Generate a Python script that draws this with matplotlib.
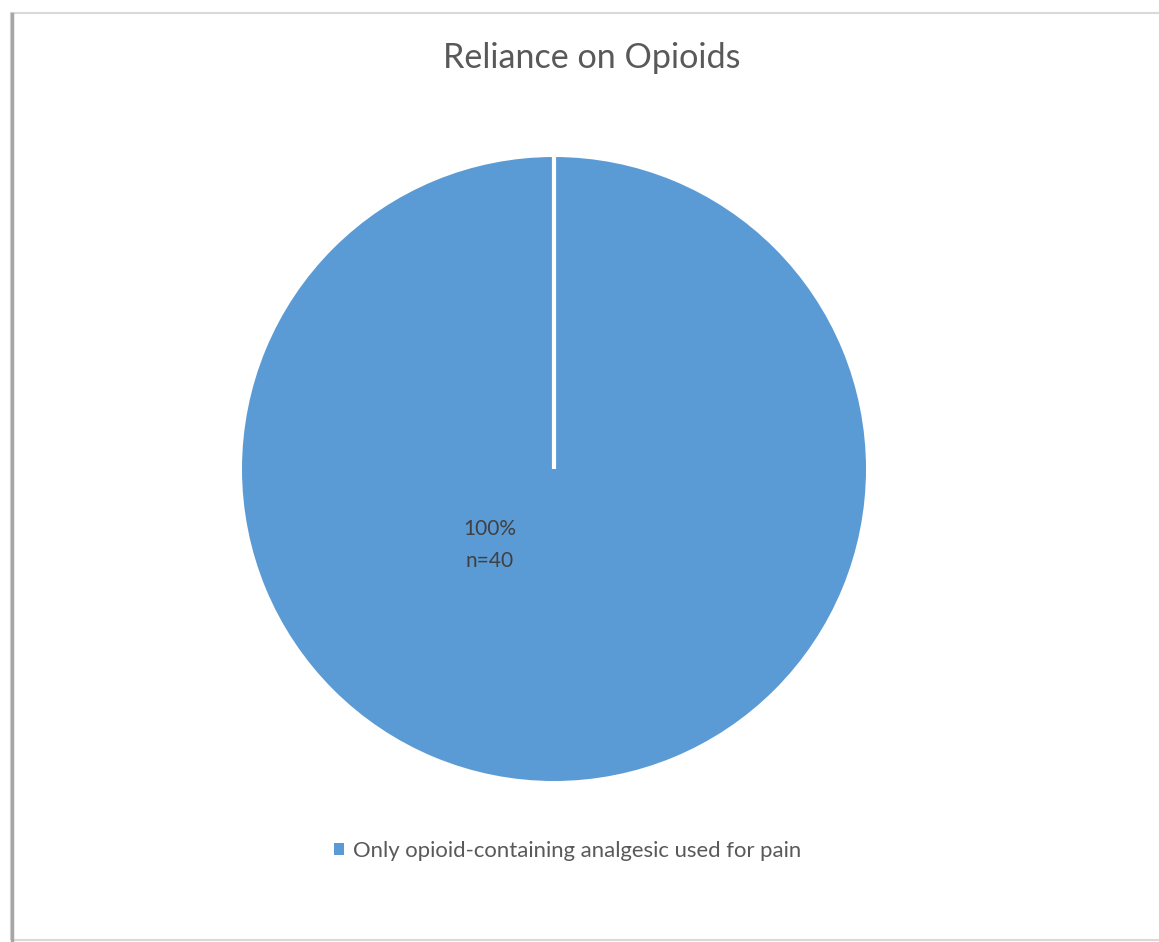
import numpy as np
import matplotlib.pyplot as plt
from matplotlib.patches import Rectangle
from matplotlib.lines import Line2D

plt.rcParams['font.family'] = ['Lato', 'DejaVu Sans']

title = "Reliance on Opioids"
categories = ["Only opioid-containing analgesic used for pain"]
values = [40]
percent_labels = ["100%\nn=40"]

blue = "#5B9BD5"

fig = plt.figure(figsize=(11.59, 9.42), dpi=100)

# chart area border (Excel style)
fig.add_artist(Rectangle((11 / 1159, 2 / 942), 1.2, (942 - 15) / 942,
                         transform=fig.transFigure, facecolor="none",
                         edgecolor="#D9D9D9", linewidth=1.5, zorder=-1))
fig.add_artist(Line2D([12 / 1159, 12 / 1159], [2 / 942, 928 / 942],
                      transform=fig.transFigure, color="#A6A6A6", linewidth=2.5))

ax = fig.add_axes([(554 - 312) / 1159, (473 - 312) / 942, 624 / 1159, 624 / 942])
wedges, _ = ax.pie(values, colors=[blue], startangle=90, counterclock=False,
                   wedgeprops=dict(linewidth=0))
ax.set_xlim(-1, 1)
ax.set_ylim(-1, 1)
ax.set_aspect("equal")
ax.axis("off")

# white separator where the slice starts
start = np.deg2rad(90)
ax.plot([0, np.cos(start)], [0, np.sin(start)], color="white", linewidth=3,
        solid_capstyle="butt")

ax.text(-0.205, -0.243, percent_labels[0], ha="center", va="center",
        fontsize=15, color="#404040", linespacing=1.75)

fig.text(592 / 1159, 1 - 58 / 942, title, ha="center", va="center",
         fontsize=24.6, color="#595959")

handles = [Rectangle((0, 0), 1, 1, facecolor=blue, edgecolor="none")]
fig.legend(handles, categories, loc="center", bbox_to_anchor=(568 / 1159, 1 - 851 / 942),
           frameon=False, fontsize=15.9, labelcolor="#595959",
           handlelength=0.45, handleheight=0.45, handletextpad=0.4)

fig.savefig("out.png", dpi=100)
